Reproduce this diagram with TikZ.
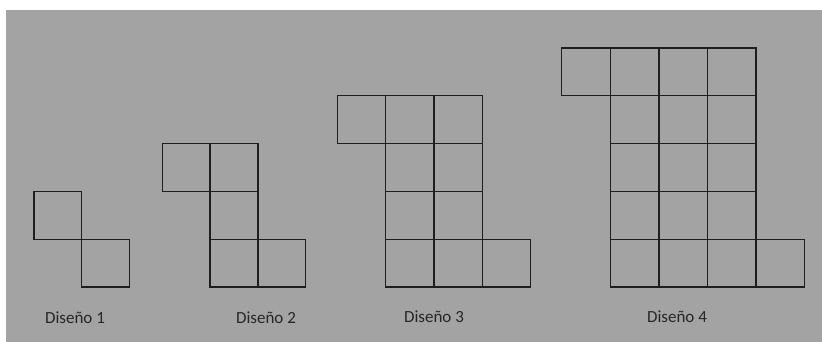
\documentclass[tikz,border=0pt]{standalone}
\usepackage{fontspec}
\setmainfont{Carlito}
\usepackage{tikz}
\definecolor{fondo}{RGB}{163,163,163}
\definecolor{trazo}{RGB}{30,30,30}
\newcommand{\lado}{1.434}
% row y of squares, from column a to column b
\newcommand{\fila}[3]{
    \foreach \c in {#2,...,#3}
        \draw[trazo, line width=1.1pt] (\c*\lado, #1*\lado) rectangle ++(\lado, \lado);
    }

\begin{document}
\begin{tikzpicture}
    \useasboundingbox (0,0) rectangle (24.66,10.26);
    \fill[fondo] (0.18,0) rectangle (24.66,9.96);
    \tikzset{etiqueta/.style={font=\fontsize{14.5}{17}\selectfont, text=black!85}}
    % Diseño 1
    \begin{scope}[xshift=1.02cm, yshift=1.65cm]
        \fila{1}{0}{0}
        \fila{0}{1}{1}
    \end{scope}
    \node[etiqueta] (d1) at (2.25, 0.72) {Diseño 1};
    % Diseño 2
    \begin{scope}[xshift=4.87cm, yshift=1.65cm]
        \fila{2}{0}{1}
        \fila{1}{1}{1}
        \fila{0}{1}{2}
    \end{scope}
    \node[etiqueta] (d2) at (7.98, 0.72) {Diseño 2};
    % Diseño 3
    \begin{scope}[xshift=10.12cm, yshift=1.65cm, xscale=1.011]
        \fila{3}{0}{2}
        \foreach \r in {1,2} {\fila{\r}{1}{2}}
        \fila{0}{1}{3}
    \end{scope}
    \node[etiqueta] (d3) at (13.02, 0.75) {Diseño 3};
    % Diseño 4
    \begin{scope}[xshift=16.85cm, yshift=1.65cm, xscale=1.017]
        \fila{4}{0}{3}
        \foreach \r in {1,2,3} {\fila{\r}{1}{3}}
        \fila{0}{1}{4}
    \end{scope}
    \node[etiqueta] (d4) at (20.31, 0.75) {Diseño 4};
\end{tikzpicture}
\end{document}
